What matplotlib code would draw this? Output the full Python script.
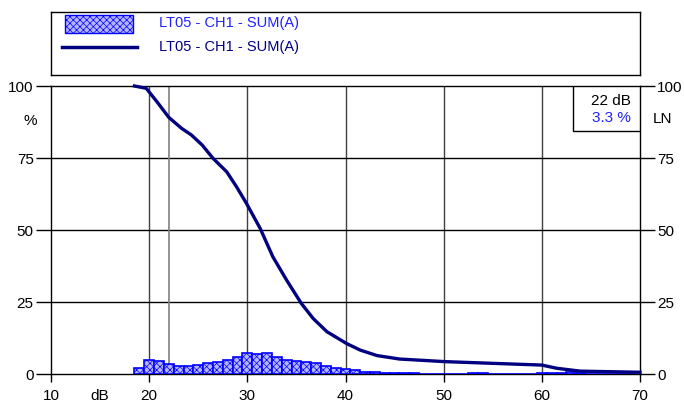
import matplotlib
matplotlib.use("Agg")
import matplotlib.pyplot as plt
from matplotlib.patches import Rectangle
from matplotlib.lines import Line2D

plt.rcParams['font.family'] = ['Liberation Sans', 'DejaVu Sans']
plt.rcParams['hatch.linewidth'] = 0.5

# histogram: level class (dB) -> percent of time
levels = [19, 20, 21, 22, 23, 24, 25, 26, 27, 28, 29, 30, 31, 32, 33, 34, 35, 36,
          37, 38, 39, 40, 41, 42, 43, 44, 45, 46, 47, 48, 49, 50, 51, 52, 53, 54,
          55, 56, 57, 58, 59, 60, 61, 62, 63, 64, 65, 66, 67, 68, 69]
percent = [2.0, 4.9, 4.5, 3.5, 2.9, 2.9, 3.2, 3.7, 4.3, 4.7, 5.9, 7.2, 6.8, 7.2,
           5.9, 4.9, 4.6, 4.2, 3.7, 2.8, 2.2, 1.9, 1.4, 0.8, 0.6, 0.5, 0.4, 0.3,
           0.2, 0.1, 0.1, 0.1, 0.1, 0.1, 0.2, 0.2, 0.1, 0.1, 0.1, 0.1, 0.1, 0.3,
           0.4, 0.3, 0.6, 0.2, 0.0, 0.0, 0.0, 0.0, 0.0]

# cumulative distribution LN curve
ln_db = [18.5, 19.7, 20.8, 22.0, 23.3, 24.3, 25.4, 26.5, 27.9, 28.9, 29.9,
         31.3, 32.6, 34.0, 35.5, 36.7, 38.1, 40.1, 41.5, 43.2, 45.5, 50.1, 55.0,
         60.0, 61.5, 63.9, 70]
ln_pct = [100, 99.2, 94.5, 89.1, 85.3, 83.0, 79.5, 74.9, 70.2, 65.0, 59.3,
          50.6, 40.7, 32.6, 24.5, 19.3, 14.7, 10.6, 8.3, 6.4, 5.2, 4.3, 3.7,
          3.1, 2.0, 1.0, 0.6]

series_label = "LT05 - CH1 - SUM(A)"
cursor_db = 22
cursor_pct = 3.3
y_ticks = [0, 25, 50, 75, 100]
x_ticks = [10, 20, 30, 40, 50, 60, 70]

W, H = 684, 407
fig = plt.figure(figsize=(W / 100, H / 100), dpi=100)
ax = fig.add_axes([51 / W, (H - 374) / H, 589 / W, 288 / H])

# grid
for x in [20, 30, 40, 50, 60]:
    ax.axvline(x, color='#404040', lw=1, zorder=1)
for y in [25, 50, 75]:
    ax.axhline(y, color='black', lw=1, zorder=1)
ax.axvline(cursor_db, color='#808080', lw=1.2, zorder=1)

# histogram bars
ax.bar(levels, percent, width=1.0, facecolor='#b4b4ff', edgecolor='#0000ff',
       hatch='xxxxx', lw=1.2, zorder=3)

# LN curve
ax.plot(ln_db, ln_pct, color='#000080', lw=2.4, zorder=4, clip_on=False,
        solid_joinstyle='round')

ax.set_xlim(10, 70)
ax.set_ylim(0, 100)
ax.set_xticks(x_ticks)
ax.set_yticks(y_ticks)
ax.tick_params(axis='x', direction='out', length=6, width=1, pad=5, labelsize=11)
ax.tick_params(axis='y', direction='out', length=11, width=1, pad=1.5, labelsize=11,
               right=True, labelright=True)
for s in ax.spines.values():
    s.set_linewidth(1)
    s.set_color('black')
    s.set_zorder(2)

ax.text(-0.036, 0.878, "%", transform=ax.transAxes, ha='center', va='center',
        fontsize=11)
ax.text(1.038, 0.884, "LN", transform=ax.transAxes, ha='center', va='center',
        fontsize=11)
ax.text(15, -0.052, "dB", transform=ax.get_xaxis_transform(), ha='center',
        va='top', fontsize=11)

# cursor readout box
ax.add_patch(Rectangle((0.886, 0.844), 0.114, 0.156, transform=ax.transAxes,
                       facecolor='white', edgecolor='black', lw=1, zorder=5))
ax.text(0.985, 0.949, f"{cursor_db} dB", transform=ax.transAxes, ha='right',
        va='center', fontsize=11, zorder=6)
ax.text(0.985, 0.889, f"{cursor_pct} %", transform=ax.transAxes, ha='right',
        va='center', fontsize=11, color='#2020ff', zorder=6)

# legend box
lax = fig.add_axes([51 / W, (H - 75) / H, 589 / W, 63 / H])
lax.set_xlim(0, 1)
lax.set_ylim(0, 1)
lax.set_xticks([])
lax.set_yticks([])
for s in lax.spines.values():
    s.set_linewidth(1)
lax.add_patch(Rectangle((0.024, 0.667), 0.115, 0.285, facecolor='#b4b4ff',
                        edgecolor='#0000ff', hatch='xxxxx', lw=1))
lax.add_line(Line2D([0.019, 0.146], [0.444, 0.444], color='#000080', lw=2.5))
lax.text(0.183, 0.83, series_label, ha='left', va='center', fontsize=10.5,
         color='#2020ff')
lax.text(0.183, 0.45, series_label, ha='left', va='center', fontsize=10.5,
         color='#000080')

fig.savefig("out.png", dpi=100)
